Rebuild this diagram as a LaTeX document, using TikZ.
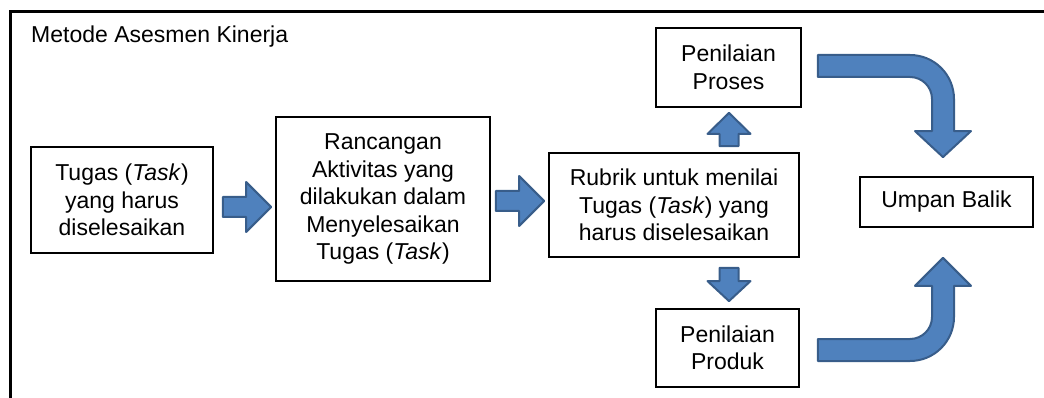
\documentclass[tikz,border=0pt]{standalone}
\usepackage{fontspec}
\setmainfont{Liberation Sans}
\usetikzlibrary{calc}
\definecolor{arrfill}{HTML}{4F81BD}
\definecolor{arrline}{HTML}{385D8A}
\tikzset{
  box/.style={draw=black, line width=1.8pt, rectangle, inner sep=0pt, align=center,
    font=\fontsize{23}{27.5}\selectfont},
  barrow/.style={fill=arrfill, draw=arrline, line width=2pt, line join=round},
  frameline/.style={draw=black, line width=3pt}
}
\begin{document}
\begin{tikzpicture}[x=1pt,y=-1pt]
\useasboundingbox (0,0) rectangle (1044,398);
\draw[frameline] (10,398) -- (10,12) -- (1044,12);
\node[anchor=base west, inner sep=0pt, font=\fontsize{23}{27.5}\selectfont] (title) at (31,43) {Metode Asesmen Kinerja};

\node[box, minimum width=182pt, minimum height=106pt] (b1) at (122,200) {Tugas (\textit{Task})\\yang harus\\diselesaikan};
\node[box, minimum width=214pt, minimum height=164pt] (b2) at (383,199) {Rancangan\\Aktivitas yang\\dilakukan dalam\\Menyelesaikan\\Tugas (\textit{Task})};
\node[box, minimum width=250pt, minimum height=104pt] (b3) at (674,205) {Rubrik untuk menilai\\Tugas (\textit{Task}) yang\\harus diselesaikan};
\node[box, minimum width=145pt, minimum height=79pt] (b4) at (728.5,67.5) {Penilaian\\Proses};
\node[box, minimum width=143pt, minimum height=78pt] (b5) at (727.5,348) {Penilaian\\Produk};
\node[box, minimum width=173pt, minimum height=50pt] (b6) at (946.5,202) {Umpan Balik};

% right arrow b1 -> b2
\draw[barrow] let \p1=([xshift=9pt,yshift=-7pt]b1.east), \p2=([xshift=-4pt]b2.west) in
  (\x1,{\y1+10pt}) -- ({\x2-25pt},{\y1+10pt}) -- ({\x2-25pt},{\y1+25pt}) -- (\x2,\y1)
  -- ({\x2-25pt},{\y1-25pt}) -- ({\x2-25pt},{\y1-10pt}) -- (\x1,{\y1-10pt}) -- cycle;
% right arrow b2 -> b3
\draw[barrow] let \p1=([xshift=5pt,yshift=-2pt]b2.east), \p2=([xshift=-4pt]b3.west) in
  (\x1,{\y1+10pt}) -- ({\x2-25pt},{\y1+10pt}) -- ({\x2-25pt},{\y1+25pt}) -- (\x2,\y1)
  -- ({\x2-25pt},{\y1-25pt}) -- ({\x2-25pt},{\y1-10pt}) -- (\x1,{\y1-10pt}) -- cycle;
% up arrow b3 -> b4
\draw[barrow] let \p1=([yshift=6pt]b3.north), \p2=([xshift=0.5pt,yshift=-5pt]b4.south) in
  ({\x2-9.5pt},\y1) -- ({\x2-9.5pt},{\y2-21pt}) -- ({\x2-21.5pt},{\y2-21pt}) -- (\x2,\y2)
  -- ({\x2+21.5pt},{\y2-21pt}) -- ({\x2+9.5pt},{\y2-21pt}) -- ({\x2+9.5pt},\y1) -- cycle;
% down arrow b3 -> b5
\draw[barrow] let \p1=([yshift=-10pt]b3.south), \p2=([xshift=1.5pt,yshift=7pt]b5.north) in
  ({\x2-9.5pt},\y1) -- ({\x2-9.5pt},{\y2+20pt}) -- ({\x2-21.5pt},{\y2+20pt}) -- (\x2,\y2)
  -- ({\x2+21.5pt},{\y2+20pt}) -- ({\x2+9.5pt},{\y2+20pt}) -- ({\x2+9.5pt},\y1) -- cycle;
% bent arrow b4 -> b6
\draw[barrow] let \p1=([xshift=16pt,yshift=1.5pt]b4.east), \p2=([xshift=-3.5pt,yshift=19pt]b6.north) in
  (\x1,{\y1+11pt}) -- ({\x2-33pt},{\y1+11pt}) arc[start angle=90,end angle=0,radius=44pt]
  -- ({\x2+11pt},{\y2+26pt}) -- ({\x2+28pt},{\y2+26pt}) -- (\x2,\y2) -- ({\x2-28pt},{\y2+26pt})
  -- ({\x2-11pt},{\y2+26pt}) -- ({\x2-11pt},{\y1-33pt}) arc[start angle=0,end angle=90,radius=22pt]
  -- (\x1,{\y1-11pt}) -- cycle;
% bent arrow b5 -> b6
\draw[barrow] let \p1=([xshift=18pt,yshift=-2pt]b5.east), \p2=([xshift=-3.5pt,yshift=-30pt]b6.south) in
  (\x1,{\y1-11pt}) -- ({\x2-33pt},{\y1-11pt}) arc[start angle=-90,end angle=0,radius=44pt]
  -- ({\x2+11pt},{\y2-28pt}) -- ({\x2+28pt},{\y2-28pt}) -- (\x2,\y2) -- ({\x2-28pt},{\y2-28pt})
  -- ({\x2-11pt},{\y2-28pt}) -- ({\x2-11pt},{\y1+33pt}) arc[start angle=0,end angle=-90,radius=22pt]
  -- (\x1,{\y1+11pt}) -- cycle;
\end{tikzpicture}
\end{document}
